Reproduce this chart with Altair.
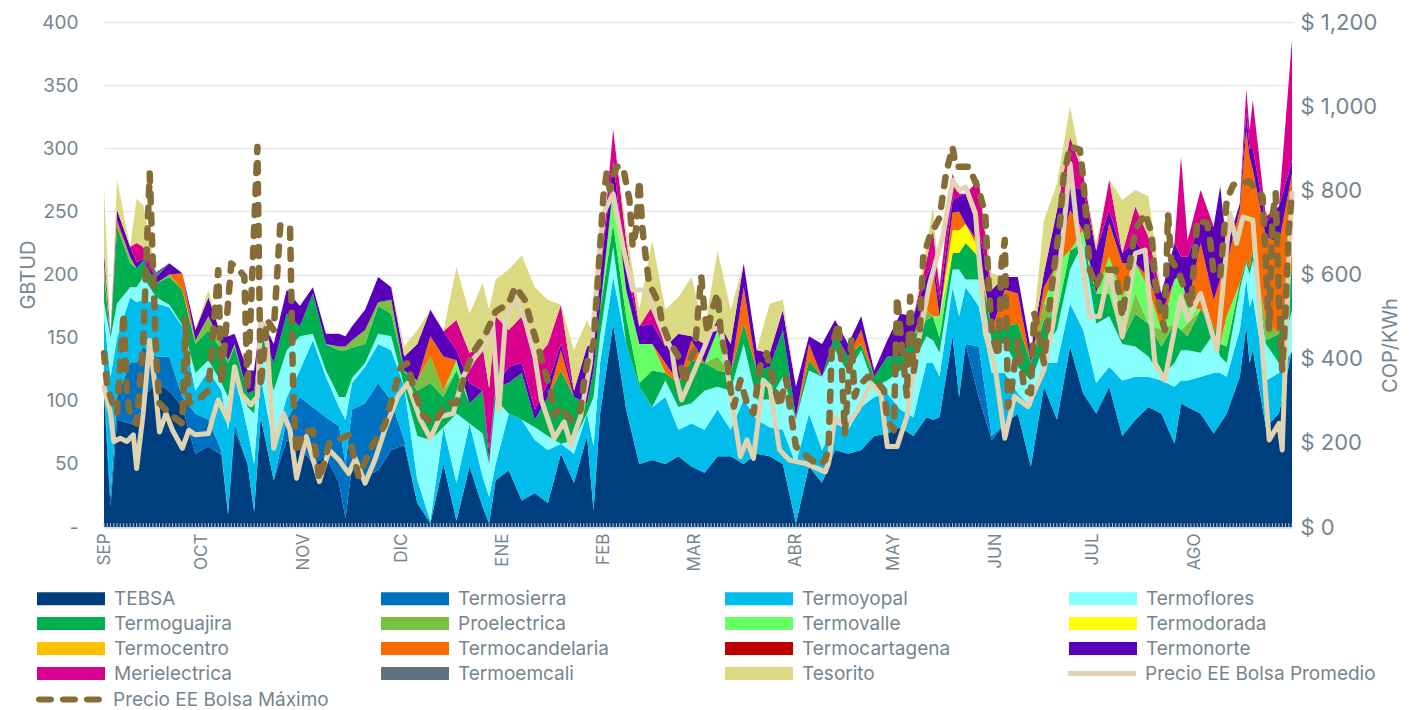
import altair as alt
import numpy as np
import pandas as pd

FUENTE = "Inter"
GRIS = "#75858f"

dias = list(range(0, 365, 4))

tebsa = [106,85,82,103,114,108,95,58,64,57,77,50,87,37,69,64,50,56,35,48,40,45,61,65,
 19,3,50,5,48,16,37,45,21,27,19,58,35,72,90,161,93,50,53,50,56,48,43,56,
 56,50,58,56,50,3,48,35,61,58,61,72,74,79,72,87,87,151,145,103,69,82,90,
 48,111,85,143,106,90,111,72,85,95,90,66,95,90,74,90,119,140,79,90,140]
termosierra = [114,103,130,143,135,135,103,90,85,60,82,50,87,37,85,103,95,87,80,93,98,114,100,69,
 0,0,0,0,0,0,0,0,0,0,0,0,0,0,0,0,0,0,0,0,0,0,0,0,
 0,0,0,0,0,0,0,0,0,0,0,0,0,0,0,0,0,0,0,143,72,0,0,
 0,0,0,0,0,0,0,0,0,0,0,0,0,0,0,0,0,0,0,0,0]
termoyopal = [167,150,182,180,177,174,159,108,124,108,122,77,119,64,103,124,148,119,95,114,127,145,140,111,
 37,5,79,35,82,40,50,90,85,69,61,66,58,90,130,198,145,111,95,103,77,82,77,93,
 77,101,85,79,77,50,90,61,82,77,95,103,106,93,87,130,119,190,190,175,122,122,106,
 95,130,130,177,156,114,127,116,119,119,116,111,116,119,122,119,156,182,116,122,135]
termoflores = [178,177,190,198,182,176,160,122,132,114,124,95,145,108,140,151,153,124,103,118,130,153,151,111,
 72,69,79,90,82,74,101,90,85,79,72,66,69,90,151,222,145,111,95,116,95,98,108,111,
 108,145,101,101,119,85,124,119,140,122,140,111,116,124,130,151,138,204,196,196,148,145,127,
 116,143,156,204,225,161,167,145,143,135,119,130,140,138,153,130,188,211,145,130,172]
termoguajira = [200,238,209,211,193,198,188,145,156,140,143,106,156,130,169,159,185,145,140,142,145,175,169,124,
 108,114,103,124,98,108,111,114,122,85,103,124,103,98,172,240,167,114,124,122,114,132,130,124,
 122,161,124,127,156,87,132,119,153,135,145,119,135,135,151,164,150,217,225,214,156,159,161,
 130,164,169,219,225,185,185,148,169,161,143,161,151,172,159,143,193,222,148,153,204]
proelectrica = [204,239,214,211,193,200,188,148,167,145,145,0,0,0,0,0,0,0,143,148,156,178,180,0,
 116,135,108,0,0,0,0,0,0,0,0,0,0,0,0,0,0,0,0,0,0,0,0,135,
 0,0,0,0,0,0,0,0,0,0,0,0,0,0,0,172,0,0,0,0,0,0,0,
 0,177,0,0,0,0,0,0,185,0,156,0,161,0,0,0,0,0,164,0,0]
termovalle = [0,0,0,0,0,0,0,0,0,0,0,0,0,0,0,0,0,0,0,0,0,0,0,0,
 0,0,0,132,0,0,0,0,0,0,0,0,0,0,0,270,188,145,145,0,0,0,0,156,
 0,0,0,0,0,0,0,0,0,0,0,0,0,0,0,0,167,0,0,0,0,0,0,
 0,0,209,0,235,0,214,182,209,190,0,196,175,0,0,167,0,0,0,0,0]
termodorada = [0]*65 + [235,240,220] + [0]*24
termocentro = [0]*92
termocandelaria = [209,243,0,0,0,0,201,0,0,0,0,0,0,0,0,0,0,0,0,0,0,0,0,0,
 0,151,135,0,0,0,0,0,0,0,0,140,0,0,0,0,0,0,0,130,0,148,0,0,
 0,190,0,0,0,0,145,0,0,0,156,0,0,0,0,185,0,249,0,225,0,188,185,
 0,190,0,251,0,0,241,209,0,198,169,0,0,225,180,209,251,283,230,225,280]
termocartagena = [0]*92
termonorte = [217,251,222,212,198,209,201,156,182,151,153,124,167,145,188,175,190,153,153,159,172,198,190,135,
 145,172,155,140,114,108,111,127,130,93,114,145,108,143,198,290,204,159,161,143,153,151,145,164,
 145,209,140,138,172,111,151,145,164,145,167,124,148,169,167,198,180,259,264,235,188,198,198,
 140,201,251,270,267,219,251,217,227,211,185,225,214,241,238,222,256,300,241,254,290]
merielectrica = [0,0,0,222,0,0,0,0,0,0,0,0,0,0,0,0,0,0,0,0,0,0,0,0,
 0,0,0,164,138,143,167,156,167,132,145,176,0,0,0,315,227,0,175,0,0,0,0,0,
 0,0,0,0,0,0,0,0,0,0,0,0,0,0,0,211,190,280,264,275,0,0,0,
 0,0,0,309,280,0,275,0,254,230,0,0,227,267,0,0,256,338,246,0,386]
termoemcali = [0,0,0,0,202] + [0]*87
tesorito = [270,275,222,255,0,0,0,0,188,0,0,0,0,0,0,0,0,0,0,0,0,0,0,143,
 156,172,155,206,169,193,196,204,215,190,180,176,140,164,198,315,235,172,227,172,182,198,156,219,
 172,209,140,177,180,0,0,0,0,0,0,0,0,0,0,222,0,0,0,0,201,0,0,
 0,243,272,333,0,225,0,259,267,262,0,0,0,0,0,0,0,0,0,0,0]

# Días sueltos con picos y caídas: mismos 15 límites, en el orden de "nombres"
dias_extra = [2,10,38,46,74,118,150,254,262,330,342,350,351]
limites_extra = [
 [16,24,119,150,150,0,0,0,0,0,0,153,0,0,0],
 [80,130,178,190,205,0,0,0,0,0,0,210,225,0,260],
 [10,10,77,103,130,132,0,0,0,0,0,151,0,0,0],
 [12,12,50,90,108,0,0,0,0,0,0,124,0,0,0],
 [7,50,85,103,140,143,0,0,0,0,0,151,0,0,0],
 [3,3,24,50,52,0,0,0,0,0,0,60,110,0,172],
 [13,13,64,103,124,0,0,0,0,0,0,145,0,0,151],
 [85,85,130,148,167,0,0,0,0,206,0,211,235,0,254],
 [103,103,167,204,217,0,0,235,0,250,0,262,264,0,0],
 [98,98,116,140,156,0,201,0,0,0,0,214,293,0,0],
 [82,82,122,135,145,0,0,0,0,196,0,270,0,0,0],
 [159,159,196,209,211,0,0,0,0,314,0,328,347,0,0],
 [130,130,174,200,205,0,0,0,0,293,0,300,314,0,0],
]

nombres = ["TEBSA","Termosierra","Termoyopal","Termoflores","Termoguajira","Proelectrica",
           "Termovalle","Termodorada","Termocentro","Termocandelaria","Termocartagena",
           "Termonorte","Merielectrica","Termoemcali","Tesorito"]
colores = ["#003f7f","#0070c0","#00bdec","#88ffff","#00b050","#7ac143","#66ff66","#ffff00",
           "#ffc000","#f96a00","#c00000","#5a00b8","#d9008f","#5f7282","#dbd981"]
limites = [tebsa,termosierra,termoyopal,termoflores,termoguajira,proelectrica,termovalle,
           termodorada,termocentro,termocandelaria,termocartagena,termonorte,merielectrica,
           termoemcali,tesorito]

prom_d = [0,2,3,5,7,9,10,12,14,16,17,19,21,24,26,28,32,34,35,38,40,42,45,47,48,50,52,55,57,59,62,66,69,72,75,77,80,83,86,90,93,
 97,100,103,107,110,113,117,119,121,123,126,129,132,134,138,141,143,146,149,151,153,156,159,162,166,171,174,175,177,181,184,186,189,
 192,195,197,199,202,204,207,210,215,221,222,224,227,231,235,238,240,243,246,249,253,257,260,262,264,267,270,273,276,279,
 283,288,291,294,296,298,302,305,308,312,316,319,322,325,330,332,336,341,345,347,349,352,357,360,361,363,364]
prom_v = [333,270,203,211,203,219,139,270,444,310,226,270,230,187,230,219,222,278,302,254,381,317,290,310,492,436,187,270,230,116,215,108,183,159,127,163,104,159,230,310,341,
 254,211,262,270,357,397,436,492,278,492,547,492,405,302,211,250,195,262,389,587,745,792,666,563,563,468,420,365,302,373,428,468,476,
 318,167,207,163,349,333,183,159,151,131,151,262,238,278,341,318,191,191,262,420,579,690,824,801,808,745,460,381,211,310,
 286,373,492,706,864,721,500,500,611,452,650,658,389,349,547,492,555,420,745,674,737,729,207,246,183,626,793]

max_d = [0,1,3,4,6,7,8,10,12,14,16,17,20,24,25,26,30,32,35,36,39,41,43,44,47,48,50,52,54,57,58,59,61,64,66,69,75,78,82,86,91,
 93,95,98,101,105,108,111,113,117,120,124,126,129,131,133,135,137,138,140,143,146,147,148,150,151,152,153,154,155,157,159,161,162,163,164,165,166,167,170,171,173,176,178,179,181,183,184,185,186,188,
 189,191,192,193,195,197,199,201,203,205,207,209,210,212,216,219,221,222,223,225,226,227,229,230,231,234,236,239,240,242,243,246,247,248,250,251,253,256,258,260,261,265,268,270,271,272,274,275,276,277,278,280,
 282,284,285,286,288,290,293,294,296,299,300,301,302,304,306,310,312,314,316,319,321,322,323,325,326,327,329,333,335,338,339,340,342,344,346,351,355,357,358,359,360,361,362,363,364]
max_v = [413,333,286,270,508,325,262,246,436,840,405,294,270,246,492,294,310,325,610,341,626,615,595,325,903,333,492,468,717,713,310,175,226,230,112,199,218,120,191,242,381,
 389,325,262,246,294,294,373,413,460,512,531,571,539,480,428,373,318,266,286,254,278,341,389,436,547,666,785,840,801,856,856,777,666,706,824,706,642,579,531,484,444,405,341,389,420,595,508,460,508,555,
 460,389,325,286,349,294,270,381,413,349,286,353,294,191,163,147,159,191,428,484,389,222,444,310,333,357,353,325,254,230,547,310,547,365,468,642,690,735,840,903,856,856,801,745,587,460,405,626,682,286,325,444,
 325,318,508,476,389,547,729,832,904,896,832,729,611,571,611,611,500,611,706,745,698,587,539,468,745,634,611,523,729,722,674,603,595,777,813,821,785,468,737,793,547,373,508,706,793]

meses = ["SEP","OCT","NOV","DIC","ENE","FEB","MAR","ABR","MAY","JUN","JUL","AGO"]
meses_d = [0,30,61,91,122,153,181,212,242,273,303,334]
dias_marca = list(range(0, 365))

tabla = np.hstack([np.array(limites, dtype=float), np.array(limites_extra, dtype=float).T])
todos_dias = np.array(dias + dias_extra)
tops = np.maximum.accumulate(tabla, axis=0)
anchos = np.diff(tops, axis=0, prepend=0)
filas = []
for i, n in enumerate(nombres):
    for d, v in zip(todos_dias, anchos[i]):
        filas.append({"dia": int(d), "serie": n, "orden": i, "valor": float(v)})
df = pd.DataFrame(filas).sort_values(["orden", "dia"])

xesc = alt.Scale(domain=[0, 364], nice=False, zero=False)
eje_x = alt.Axis(values=meses_d, title=None, grid=False, ticks=False,
                 labelAngle=270, labelAlign="right", labelBaseline="middle",
                 labelPadding=6, labelFontSize=17, labelColor=GRIS, labelFont=FUENTE,
                 domainColor="#d9d9d9", domainWidth=2,
                 labelExpr="[" + ",".join(f"'{m}'" for m in meses) + "][indexof([" + ",".join(map(str, meses_d)) + "],datum.value)]")

CUADRO = "M-1,-1H9.46V1H-1Z"
RAYA = "M-1,0H9.46"
TRES_RAYAS = ("M-0.55,-.45H1.32A.45,.45 0 0 1 1.32,.45H-0.55A.45,.45 0 0 1 -0.55,-.45Z"
              "M3.14,-.45H5.01A.45,.45 0 0 1 5.01,.45H3.14A.45,.45 0 0 1 3.14,-.45Z"
              "M6.83,-.45H8.7A.45,.45 0 0 1 8.7,.45H6.83A.45,.45 0 0 1 6.83,-.45Z")

izq_esc = alt.Scale(domain=[0, 400], nice=False)
eje_izq = alt.Axis(values=list(range(0, 401, 50)), title="GBTUD", ticks=False, domain=False,
                   gridColor="#e6e6e6", gridWidth=1.5,
                   labelFontSize=19, labelColor=GRIS, labelFont=FUENTE, labelPadding=26,
                   titleFontSize=20, titleColor=GRIS, titleFont=FUENTE, titleFontWeight="normal",
                   titlePadding=3,
                   labelExpr="datum.value==0?'-':datum.label")

areas = alt.Chart(df).mark_area(interpolate="linear").encode(
    x=alt.X("dia:Q", scale=xesc, axis=eje_x),
    y=alt.Y("valor:Q", stack="zero", scale=izq_esc, axis=eje_izq),
    color=alt.Color("serie:N", scale=alt.Scale(domain=nombres, range=colores),
                    legend=alt.Legend(orient="none", legendX=-70, legendY=567, columns=4, title=None,
                                      direction="horizontal",
                                      gridAlign="all", columnPadding=113, rowPadding=5,
                                      symbolType=CUADRO, symbolSize=169, symbolStrokeWidth=0,
                                      labelOffset=61, labelFontSize=19, labelColor=GRIS, labelFont=FUENTE,
                                      labelLimit=300, padding=0)),
    order=alt.Order("orden:Q"),
)

marcas = alt.Chart(pd.DataFrame({"dia": dias_marca, "y0": 0, "y1": 3})).mark_rule(
    color="#b9c6d3", strokeWidth=1).encode(
    x=alt.X("dia:Q", scale=xesc, axis=eje_x),
    y=alt.Y("y0:Q", scale=izq_esc, axis=eje_izq),
    y2="y1:Q")

derecha = alt.Scale(domain=[0, 1200], nice=False)
eje_der = alt.Axis(orient="right", values=list(range(0, 1201, 200)), title="COP/KWh", ticks=False, domain=False,
                   grid=False, labelFontSize=22, labelColor=GRIS, labelFont=FUENTE, labelPadding=8,
                   titleFontSize=20, titleColor=GRIS, titleFont=FUENTE, titleFontWeight="normal",
                   titleAngle=270, titleX=108, titleY=323,
                   labelExpr="'$ ' + format(datum.value, ',')")

NP = "Precio EE Bolsa Promedio"
NM = "Precio EE Bolsa Máximo"
prom = alt.Chart(pd.DataFrame({"dia": prom_d, "v": prom_v, "serie": NP})).mark_line(
    strokeWidth=5, strokeCap="round", strokeJoin="round").encode(
    x=alt.X("dia:Q", scale=xesc, axis=eje_x),
    y=alt.Y("v:Q", scale=derecha, axis=eje_der),
    stroke=alt.Stroke("serie:N", scale=alt.Scale(domain=[NP], range=["#e0d3b2"]),
                      legend=alt.Legend(orient="none", legendX=961, legendY=642, title=None,
                                        symbolType=RAYA, symbolSize=169, symbolStrokeWidth=5,
                                        labelOffset=61, labelFontSize=19, labelColor=GRIS, labelFont=FUENTE,
                                        labelLimit=300, padding=0)),
)
maxi = alt.Chart(pd.DataFrame({"dia": max_d, "v": max_v, "serie": NM})).mark_line(
    strokeWidth=6.5, strokeCap="round", strokeJoin="round", color="#866d38").encode(
    x=alt.X("dia:Q", scale=xesc, axis=eje_x),
    y=alt.Y("v:Q", scale=derecha, axis=eje_der),
    strokeDash=alt.StrokeDash("serie:N", scale=alt.Scale(domain=[NM], range=[[9, 12]]),
                              legend=alt.Legend(orient="none", legendX=-71, legendY=668, title=None,
                                                symbolType=TRES_RAYAS, symbolSize=169, symbolStrokeWidth=0,
                                                symbolFillColor="#866d38",
                                                labelOffset=61, labelFontSize=19, labelColor=GRIS, labelFont=FUENTE,
                                                labelLimit=300, padding=0)),
)

chart = alt.layer(alt.layer(areas, marcas), alt.layer(prom, maxi)).resolve_scale(
    y="independent", color="independent", stroke="independent", strokeDash="independent"
).properties(
    width=1188, height=505,
    autosize=alt.AutoSizeParams(type="none"),
    padding={"left": 96, "top": 14, "right": 110, "bottom": 183},
).configure_view(stroke=None)

chart.save("out.html", embed_options={"renderer": "svg", "actions": False})
